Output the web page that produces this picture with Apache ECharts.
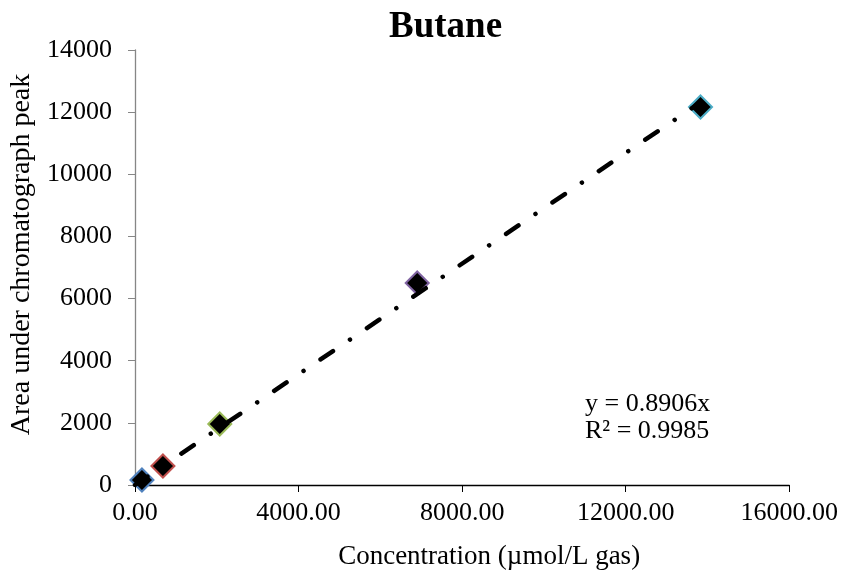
<!DOCTYPE html>
<html>
<head>
<meta charset="utf-8">
<script src="https://cdn.jsdelivr.net/npm/echarts@6/dist/echarts.min.js"></script>
<style>html,body{margin:0;padding:0;background:#fff}#c{width:841px;height:575px}</style>
</head>
<body>
<div id="c"></div>
<script>
const concentrations = [170, 683, 2073, 6902, 13830];
const areas = [160, 611, 1963, 6501, 12166];
const pointColors = ['#4F81BD', '#C0504D', '#9BBB59', '#8064A2', '#4BACC6'];
const slope = 0.8906;
const r2 = 0.9985;
const xTicks = [0, 4000, 8000, 12000, 16000];
const yTicks = [0, 2000, 4000, 6000, 8000, 10000, 12000, 14000];

const font = 'Liberation Serif, Times New Roman, serif';
const xMax = Math.max(...concentrations);
const trend = [[0, 0], [xMax, slope * xMax]];

const chart = echarts.init(document.getElementById('c'));
chart.setOption({
  animation: false,
  backgroundColor: '#fff',
  title: {
    text: 'Butane', left: 384, top: 4,
    textStyle: { fontFamily: font, fontSize: 37, fontWeight: 'bold', color: '#000' }
  },
  grid: { left: 135, right: 50, top: 50, bottom: 90 },
  xAxis: {
    type: 'value', min: xTicks[0], max: xTicks[xTicks.length - 1], interval: xTicks[1] - xTicks[0],
    name: 'Concentration (µmol/L gas)', nameLocation: 'middle', nameGap: 58,
    nameTextStyle: { fontFamily: font, fontSize: 27, color: '#000', padding: [0, 0, 0, 54] },
    axisLine: { show: true, lineStyle: { color: '#000', width: 1.3 } },
    axisTick: { show: true, length: 7, lineStyle: { color: '#000' } },
    axisLabel: { fontFamily: font, fontSize: 26, color: '#000', margin: 15,
      formatter: v => v.toFixed(2) },
    splitLine: { show: false }
  },
  yAxis: {
    type: 'value', min: yTicks[0], max: yTicks[yTicks.length - 1], interval: yTicks[1] - yTicks[0],
    name: 'Area under chromatograph peak', nameLocation: 'middle', nameGap: 94,
    nameTextStyle: { fontFamily: font, fontSize: 28, color: '#000', padding: [0, 0, 0, 26] },
    axisLine: { show: true, lineStyle: { color: '#868686', width: 1.3 } },
    axisTick: { show: true, length: 7, lineStyle: { color: '#868686' } },
    axisLabel: { fontFamily: font, fontSize: 26, color: '#000', margin: 23,
      formatter: v => String(v) },
    splitLine: { show: false }
  },
  series: [
    {
      type: 'scatter', symbol: 'diamond', symbolSize: 23, z: 2,
      data: concentrations.map((x, i) => ({
        value: [x, areas[i]],
        itemStyle: { color: '#000', borderColor: pointColors[i], borderWidth: 2, opacity: 1 }
      }))
    },
    {
      type: 'line', data: trend, showSymbol: false, symbol: 'none', z: 3,
      lineStyle: { color: '#000', width: 4.5, type: [15, 20.5, 0.01, 20.5], cap: 'round' }
    }
  ],
  graphic: [
    { type: 'text', left: 585, top: 391, style: { text: 'y = ' + slope + 'x', font: '26px ' + font, fill: '#000' } },
    { type: 'text', left: 585, top: 418, style: { text: 'R² = ' + r2.toFixed(4), font: '26px ' + font, fill: '#000' } }
  ]
});
</script>
</body>
</html>
